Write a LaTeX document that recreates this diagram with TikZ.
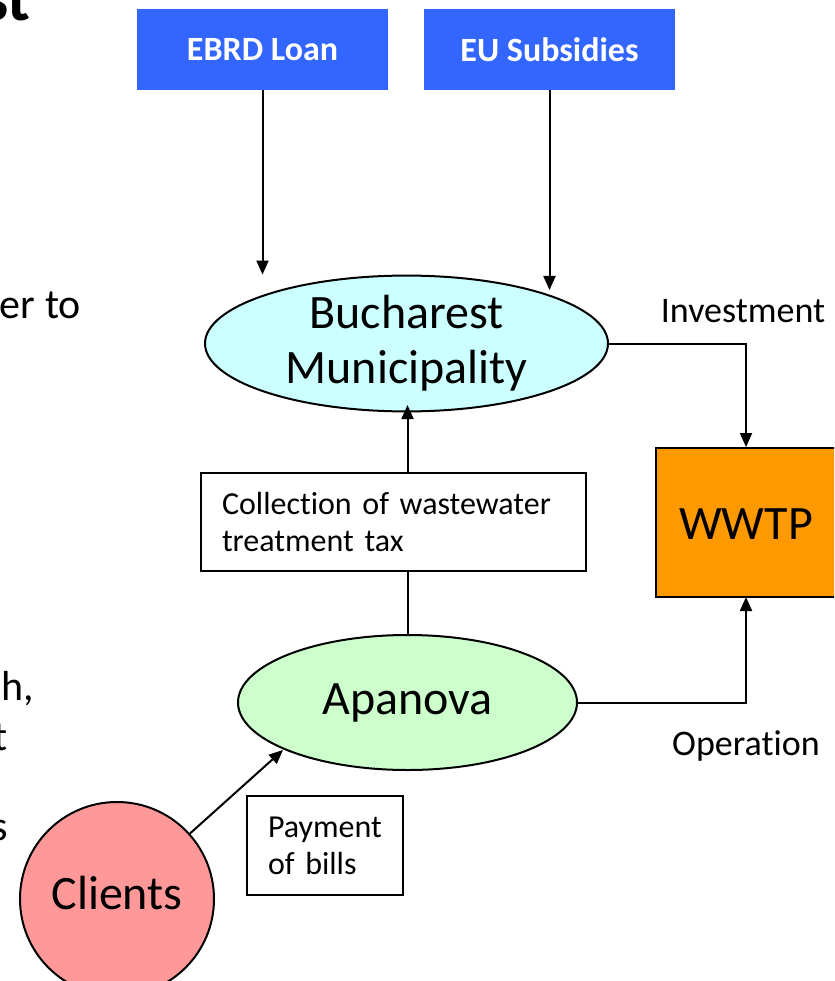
\documentclass[tikz,border=0pt]{standalone}
\usepackage{fontspec}
\setmainfont{Carlito}[Ligatures=NoCommon]
\usetikzlibrary{shapes.geometric,arrows.meta}
\definecolor{boxblue}{HTML}{3366FF}
\definecolor{bucfill}{HTML}{CCFFFF}
\definecolor{apafill}{HTML}{CCFFCC}
\definecolor{wwtpfill}{HTML}{FF9900}
\definecolor{clifill}{HTML}{FF9999}
\tikzset{
  fund/.style={rectangle, fill=boxblue, text=white, font=\fontsize{34}{40}\selectfont\bfseries, minimum width=251pt, minimum height=81pt, inner sep=0pt},
  oval/.style={ellipse, draw, line width=2pt, font=\fontsize{48}{57}\selectfont, align=center, inner sep=0pt},
  label box/.style={rectangle, draw, fill=white, line width=2pt, align=left, font=\fontsize{32}{37}\selectfont, inner sep=0pt, text width=#1},
  lbl/.style={font=\fontsize{36}{42}\selectfont, inner sep=0pt},
  frag/.style={font=\fontsize{42}{50}\selectfont, inner sep=0pt, anchor=base east},
  conn/.style={line width=2pt},
  arr/.style={line width=2pt, -{Triangle[length=14pt,width=12pt]}}
}
\begin{document}
\begin{tikzpicture}[x=1pt,y=-1pt]
\useasboundingbox (0,0) rectangle (834,981);
\clip (0,0) rectangle (834,981);
% slide text fragments on the left
\node[frag, font=\fontsize{66}{70}\selectfont\bfseries] (f0) at (31,21) {st};
\node[frag] (f1) at (81,318) {er to};
\node[frag] (f2) at (34,700) {h,};
\node[frag] (f3) at (8,750) {t};
\node[frag] (f4) at (8,840) {s};
% nodes
\node[fund] (ebrd) at (262.5,49.5) {EBRD Loan};
\node[fund] (eu) at (549.5,49.5) {EU Subsidies};
\node[oval, fill=bucfill, minimum width=403pt, minimum height=121pt] (buc) at (406.5,343.5) {Bucharest\\[-2pt]Municipality};
\node[rectangle, draw, line width=2pt, fill=wwtpfill, minimum width=200pt, minimum height=149pt, inner sep=0pt] (wwtp) at (756,522.5) {};
\node[font=\fontsize{48}{57}\selectfont, inner sep=0pt] (wwtpt) at (746,524) {WWTP};
\node[oval, fill=apafill, minimum width=339pt, minimum height=135pt] (apa) at (407.5,702.5) {Apanova};
\node[circle, draw, line width=2pt, fill=clifill, minimum size=194pt, inner sep=0pt] (cli) at (117,899) {};
\node[font=\fontsize{48}{57}\selectfont, inner sep=0pt] (clit) at (117,893) {Clients};
% connectors
\draw[arr] (ebrd.south) -- (ebrd.south |- buc.north) coordinate (e1);
\draw[arr] (eu.south) -- (549.5,290) coordinate (e2);
\draw[arr] (buc.east) -| (wwtp.north -| 746,0);
\draw[arr] (apa.east) -| (746,597) coordinate (w2);
\draw[arr] (cli) -- (283,750) coordinate (a1);
\node[label box=343pt, minimum height=98pt, inner xsep=21pt, anchor=north west] (coll) at (200,472) {Collection of wastewater\\treatment tax};
\draw[conn] (apa.north) -- (apa.north |- coll.south);
\draw[arr] (407.5,472) -- (407.5,405) coordinate (b1);
\node[label box=114pt, minimum height=99pt, inner xsep=21pt, anchor=north west] (pay) at (246,795) {Payment\\of bills};
% labels
\node[lbl] (inv) at (743,311) {Investment};
\node[lbl] (op) at (746,746) {Operation};
\end{tikzpicture}
\end{document}
